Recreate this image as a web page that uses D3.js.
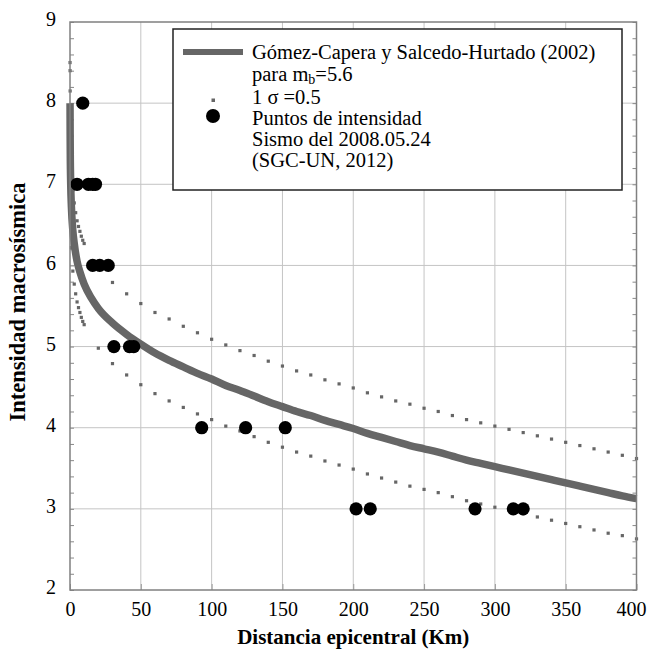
<!DOCTYPE html>
<html><head><meta charset="utf-8">
<script src="https://cdn.jsdelivr.net/npm/d3@7"></script>
<style>body{margin:0;background:#fff}</style>
</head><body><svg id="c" width="647" height="652"></svg>
<script>
// Main attenuation curve (Gómez-Capera y Salcedo-Hurtado, 2002)
const curveDist = [0.03,0.05,0.1,0.2,0.5,1,2,3,5,7,10,15,20,30,40,50,60,70,80,90,100,110,120,130,140,150,160,170,180,190,200,210,220,230,240,250,260,270,280,290,300,310,320,330,340,350,360,370,380,390,400];
const curveInt  = [8.0,7.9,7.65,7.37,7.0,6.72,6.43,6.27,6.05,5.92,5.77,5.6,5.47,5.29,5.15,5.03,4.92,4.83,4.75,4.67,4.60,4.52,4.46,4.39,4.32,4.26,4.20,4.15,4.09,4.04,3.99,3.93,3.88,3.83,3.78,3.74,3.70,3.65,3.60,3.56,3.52,3.48,3.44,3.40,3.36,3.32,3.28,3.24,3.20,3.16,3.125];
// 1 sigma bands (dotted markers)
const sigmaDist = [0.03,0.05,0.1,0.2,0.3,0.5,1,2,3,4,5,6,7,8,9,10,20,30,40,50,60,70,80,90,100,110,120,130,140,150,160,170,180,190,200,210,220,230,240,250,260,270,280,290,300,310,320,330,340,350,360,370,380,390,400];
const sigmaUpper = [8.5,8.4,8.15,7.87,7.7,7.5,7.22,6.93,6.77,6.65,6.55,6.48,6.42,6.36,6.31,6.27,5.97,5.79,5.65,5.53,5.42,5.34,5.25,5.17,5.09,5.02,4.95,4.89,4.82,4.76,4.70,4.65,4.59,4.54,4.49,4.43,4.38,4.33,4.29,4.24,4.20,4.15,4.10,4.06,4.02,3.98,3.94,3.90,3.86,3.82,3.78,3.74,3.70,3.66,3.62];
const sigmaLower = [7.5,7.4,7.15,6.87,6.7,6.5,6.22,5.93,5.77,5.65,5.55,5.48,5.42,5.36,5.31,5.27,4.98,4.79,4.65,4.53,4.42,4.33,4.25,4.17,4.10,4.02,3.96,3.89,3.82,3.76,3.70,3.65,3.59,3.54,3.49,3.43,3.38,3.33,3.28,3.24,3.20,3.15,3.10,3.06,3.02,2.98,2.94,2.90,2.86,2.82,2.78,2.74,2.70,2.67,2.63];
// Observed intensity points (SGC-UN, 2012)
const obsDist = [9,5,13,16,18,16,21,27,31,42,45,93,124,152,202,212,286,313,320];
const obsInt  = [8,7,7,7,7,6,6,6,5,5,5,4,4,4,3,3,3,3,3];
// Tick labels
const xTicks = [0,50,100,150,200,250,300,350,400];
const yTicks = [2,3,4,5,6,7,8,9];
const legendLabels = ["Gómez-Capera y Salcedo-Hurtado (2002)","para m","1 σ =0.5","Puntos de intensidad","Sismo del 2008.05.24","(SGC-UN, 2012)"];

const FONT = "'Liberation Serif','Times New Roman',Times,'DejaVu Serif',serif";
const svg = d3.select("#c").style("font-family", FONT);
const L = 70, R = 636.5, T = 22, B = 590;
const x = d3.scaleLinear().domain([0,400]).range([L,R]);
const y = d3.scaleLinear().domain([2,9]).range([B,T]);
const gray = "#666";

// grid
const grid = svg.append("g");
grid.selectAll("line.v").data(xTicks.slice(1,-1)).join("line")
  .attr("x1",d=>x(d)).attr("x2",d=>x(d)).attr("y1",T).attr("y2",B)
  .attr("stroke","#c4c4c4").attr("stroke-width",1);
grid.selectAll("line.h").data(yTicks.slice(1,-1)).join("line")
  .attr("y1",d=>y(d)).attr("y2",d=>y(d)).attr("x1",L).attr("x2",R)
  .attr("stroke","#c4c4c4").attr("stroke-width",1);

// minor y ticks left & right (inward)
const minor = y.ticks(35);
svg.append("g").attr("transform",`translate(${L},0)`)
  .call(d3.axisRight(y).tickValues(minor).tickSize(4).tickFormat(""))
  .call(g=>{g.select(".domain").remove(); g.selectAll("line").attr("stroke","#888");});
svg.append("g").attr("transform",`translate(${R},0)`)
  .call(d3.axisLeft(y).tickValues(minor).tickSize(4).tickFormat(""))
  .call(g=>{g.select(".domain").remove(); g.selectAll("line").attr("stroke","#888");});
// major x ticks inward
svg.append("g").attr("transform",`translate(0,${B})`)
  .call(d3.axisTop(x).tickValues(xTicks).tickSize(6).tickFormat(""))
  .call(g=>{g.select(".domain").remove(); g.selectAll("line").attr("stroke","#999");});

// sigma dots
const sigPts = [];
sigmaDist.forEach((d,i)=>{ sigPts.push([d,sigmaUpper[i]]); sigPts.push([d,sigmaLower[i]]); });
svg.append("g").selectAll("rect").data(sigPts).join("rect")
  .attr("x",d=>x(d[0])-1.6).attr("y",d=>y(d[1])-1.6).attr("width",3.2).attr("height",3.2)
  .attr("fill",gray);

// main curve
const line = d3.line().x((d,i)=>x(curveDist[i])).y(d=>y(d)).curve(d3.curveMonotoneX);
svg.append("path").attr("d",line(curveInt)).attr("fill","none")
  .attr("stroke",gray).attr("stroke-width",7.5);

// observed points
svg.append("g").selectAll("circle").data(obsDist).join("circle")
  .attr("cx",d=>x(d)).attr("cy",(d,i)=>y(obsInt[i])).attr("r",6.6).attr("fill","#000");

// frame
svg.append("rect").attr("x",L).attr("y",T).attr("width",R-L).attr("height",B-T)
  .attr("fill","none").attr("stroke","#808080").attr("stroke-width",1.5);

// axes labels
svg.append("g").attr("transform",`translate(${L},0)`)
  .call(d3.axisLeft(y).tickValues(yTicks).tickSize(0).tickPadding(14).tickFormat(d3.format("d")))
  .call(g=>{g.select(".domain").remove(); g.attr("font-family",null);
    g.selectAll("text").attr("font-size",20).attr("fill","#000").style("font-family",FONT).attr("dy","0.18em");});
svg.append("g").attr("transform",`translate(0,${B})`)
  .call(d3.axisBottom(x).tickValues(xTicks).tickSize(0).tickPadding(12).tickFormat(d3.format("d")))
  .call(g=>{g.select(".domain").remove(); g.attr("font-family",null);
    g.selectAll("text").attr("font-size",20).attr("fill","#000").style("font-family",FONT);
    g.selectAll("text").filter(d=>d===400).attr("text-anchor","end").attr("dx","9.5");});

svg.append("text").attr("x",(L+R)/2).attr("y",644).attr("text-anchor","middle").style("font-family",FONT)
  .attr("font-size",21).attr("font-weight","bold").text("Distancia epicentral (Km)");
svg.append("text").attr("transform",`translate(25,302) rotate(-90)`).attr("text-anchor","middle").style("font-family",FONT)
  .attr("font-size",22.5).attr("font-weight","bold").text("Intensidad macrosísmica");

// legend
const lg = svg.append("g");
lg.append("rect").attr("x",173).attr("y",29).attr("width",449).attr("height",161)
  .attr("fill","#fff").attr("stroke","#222").attr("stroke-width",1.5);
lg.append("line").attr("x1",183).attr("x2",243).attr("y1",52).attr("y2",52)
  .attr("stroke",gray).attr("stroke-width",6);
lg.append("rect").attr("x",211.5).attr("y",98.5).attr("width",3.5).attr("height",3.5).attr("fill",gray);
lg.append("circle").attr("cx",213).attr("cy",116).attr("r",7).attr("fill","#000");
const baselines = [59,81,104,125,146,167];
legendLabels.forEach((t,i)=>{
  const tx = lg.append("text").attr("x",252).attr("y",baselines[i]).attr("font-size",20.5).attr("fill","#000").style("font-family",FONT);
  if(i===1){
    tx.append("tspan").text("para m");
    tx.append("tspan").attr("font-size",14).attr("dy",3).text("b");
    tx.append("tspan").attr("dy",-3).text("=5.6");
  } else tx.text(t);
});
</script></body></html>
